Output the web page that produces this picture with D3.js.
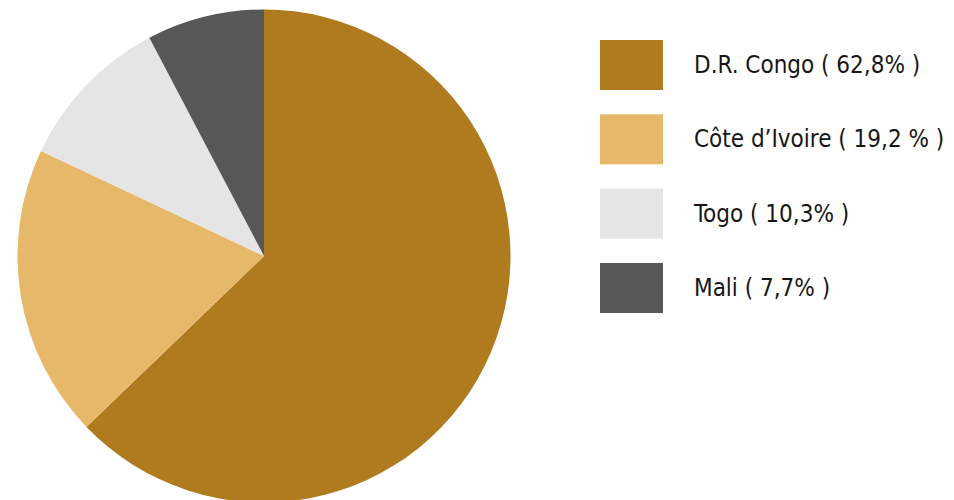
<!DOCTYPE html>
<html>
<head>
<meta charset="utf-8">
<script src="https://cdn.jsdelivr.net/npm/d3@7"></script>
<style>
  html, body { margin: 0; padding: 0; background: #fff; }
  svg { display: block; }
</style>
</head>
<body>
<svg id="chart"></svg>
<script>
// data
const countries = ["D.R. Congo", "Côte d\u2019Ivoire", "Togo", "Mali"];
const shares = [62.8, 19.2, 10.3, 7.7];
const labels = ["D.R. Congo ( 62,8% )", "Côte d\u2019Ivoire ( 19,2 % )", "Togo ( 10,3% )", "Mali ( 7,7% )"];
const colours = ["#b07b1e", "#e6b96a", "#e5e5e5", "#575757"];

const width = 954, height = 500;
const cx = 264, cy = 256, radius = 246.5;

const svg = d3.select("#chart")
    .attr("width", width)
    .attr("height", height);

const data = countries.map((c, i) => ({ name: c, value: shares[i], label: labels[i] }));

// pie, clockwise from 12 o'clock, in given order
const pie = d3.pie().value(d => d.value).sort(null);
const arc = d3.arc().innerRadius(0).outerRadius(radius);

const colour = d3.scaleOrdinal().domain(countries).range(colours);

svg.append("g")
    .attr("transform", `translate(${cx}, ${cy})`)
    .selectAll("path")
    .data(pie(data))
    .enter()
    .append("path")
    .attr("d", arc)
    .attr("fill", d => colour(d.data.name));

// legend
const legendY = d3.scalePoint().domain(countries).range([40, 263]);

const legend = svg.append("g")
    .selectAll("g")
    .data(data)
    .enter()
    .append("g")
    .attr("transform", d => `translate(600, ${legendY(d.name)})`);

legend.append("rect")
    .attr("width", 63)
    .attr("height", 50)
    .attr("fill", d => colour(d.name));

legend.append("text")
    .attr("x", 94)
    .attr("y", 33)
    .attr("font-family", "'DejaVu Sans Condensed', 'DejaVu Sans', sans-serif")
    .attr("font-size", 24)
    .attr("fill", "#161616")
    .text(d => d.label);
</script>
</body>
</html>
